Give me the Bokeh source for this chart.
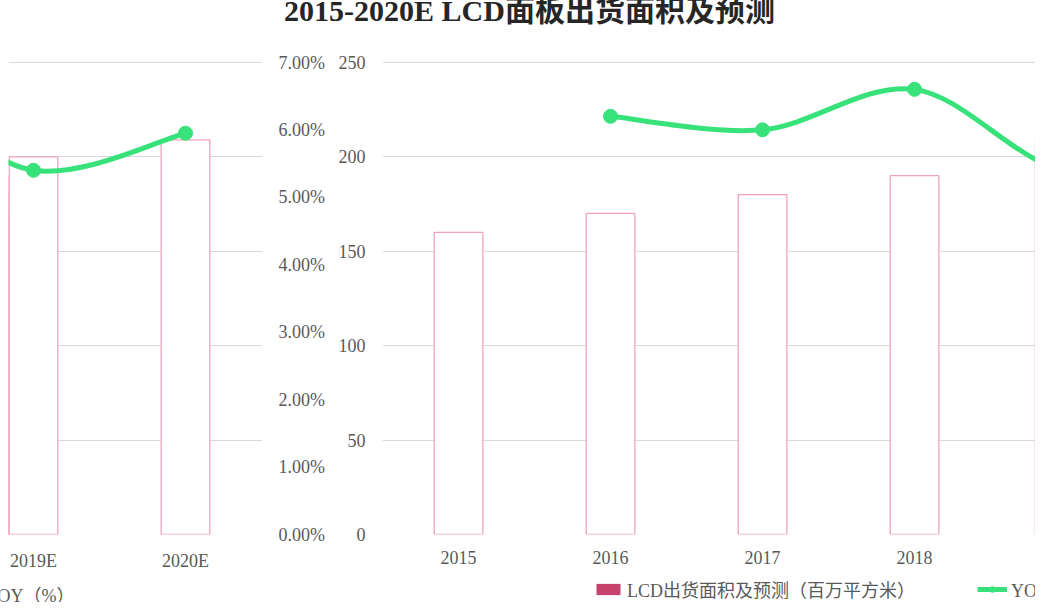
import math
from bokeh.plotting import figure
from bokeh.layouts import column, row
from bokeh.models import (ColumnDataSource, Range1d, LinearAxis, FixedTicker,
                          PrintfTickFormatter, Legend, LegendItem, Label, Div)
from bokeh.embed import file_html
from bokeh.resources import INLINE

# ---------------- data ----------------
categories = ["2015", "2016", "2017", "2018", "2019E", "2020E"]
area = [160, 170, 180, 190, 200, 209]                 # LCD出货面积 (百万平方米)
yoy = [float("nan"), 6.2, 6.0, 6.6, 5.4, 5.95]       # YOY (%)
area_ticks = [0, 50, 100, 150, 200, 250]
yoy_ticks = [0, 1, 2, 3, 4, 5, 6, 7]
title_text = "2015-2020E LCD面板出货面积及预测"
bar_label = "LCD出货面积及预测（百万平方米）"
line_label = "YOY（%）"

# ---------------- styles ----------------
SERIF = "'Liberation Serif', 'Noto Sans CJK SC'"
TXT = "#595959"
GRID = "#D9D9D9"
GREEN = "#38E27A"
BAR_EDGE = "#F2A3BA"
BAR_KEY = "#C6416B"
PX_PER_CAT = 152.0
Y_TOP = area_ticks[-1] + 1          # a little headroom so the top grid line shows
FRAME_H = 474

idx = list(range(len(categories)))
bar_src = ColumnDataSource(dict(x=idx, top=area))
pts = [(i, v) for i, v in zip(idx, yoy) if not math.isnan(v)]
pt_src = ColumnDataSource(dict(x=[q[0] for q in pts], y=[q[1] for q in pts]))

# smoothed line through the YOY points (Catmull-Rom -> cubic Bezier)
seg = dict(x0=[], y0=[], x1=[], y1=[], cx0=[], cy0=[], cx1=[], cy1=[])
n = len(pts)
for k in range(n - 1):
    p0 = pts[max(k - 1, 0)]
    p1 = pts[k]
    p2 = pts[k + 1]
    p3 = pts[min(k + 2, n - 1)]
    seg["x0"].append(p1[0]); seg["y0"].append(p1[1])
    seg["x1"].append(p2[0]); seg["y1"].append(p2[1])
    seg["cx0"].append(p1[0] + (p2[0] - p0[0]) / 6.0)
    seg["cy0"].append(p1[1] + (p2[1] - p0[1]) / 6.0)
    seg["cx1"].append(p2[0] - (p3[0] - p1[0]) / 6.0)
    seg["cy1"].append(p2[1] - (p3[1] - p1[1]) / 6.0)
seg_src = ColumnDataSource(seg)


def style_axis(ax, standoff):
    ax.axis_line_color = None
    ax.major_tick_line_color = None
    ax.minor_tick_line_color = None
    ax.major_tick_out = 0
    ax.major_label_standoff = standoff
    ax.major_label_text_font = SERIF
    ax.major_label_text_font_size = "18px"
    ax.major_label_text_color = TXT


def make_panel(x0, fw, bl, br):
    p = figure(frame_width=fw, frame_height=FRAME_H,
               x_range=Range1d(x0, x0 + fw / PX_PER_CAT),
               y_range=Range1d(area_ticks[0], Y_TOP),
               extra_y_ranges={"pct": Range1d(yoy_ticks[0],
                                              yoy_ticks[-1] * Y_TOP / area_ticks[-1])},
               output_backend="svg", toolbar_location=None,
               min_border_left=bl, min_border_right=br,
               min_border_top=8, min_border_bottom=40,
               outline_line_color=None,
               background_fill_color="white", border_fill_color="white")
    p.xgrid.visible = False
    p.ygrid.ticker = FixedTicker(ticks=area_ticks)
    p.ygrid.grid_line_color = GRID
    p.ygrid.grid_line_width = 1

    xa = p.xaxis[0]
    xa.ticker = FixedTicker(ticks=idx)
    xa.major_label_overrides = {i: c for i, c in zip(idx, categories)}
    style_axis(xa, 16)

    ya = p.yaxis[0]
    ya.ticker = FixedTicker(ticks=area_ticks)
    style_axis(ya, 17)

    p.vbar(x="x", top="top", width=0.32, source=bar_src,
           fill_color="white", line_color=BAR_EDGE, line_width=1.3)
    p.bezier(x0="x0", y0="y0", x1="x1", y1="y1", cx0="cx0", cy0="cy0",
             cx1="cx1", cy1="cy1", source=seg_src, y_range_name="pct",
             line_color=GREEN, line_width=5)
    p.scatter(x="x", y="y", source=pt_src, y_range_name="pct", size=14,
              fill_color=GREEN, line_color=GREEN)
    return p


def make_strip(w):
    # a thin strip that only carries the legend; its ranges keep the series out of view
    s = figure(width=w, height=28, x_range=Range1d(-3, -2), y_range=Range1d(-3, -2),
               x_axis_location=None, y_axis_location=None,
               output_backend="svg", toolbar_location=None,
               min_border=0, outline_line_color=None,
               background_fill_color="white", border_fill_color="white")
    s.grid.visible = False
    return s


# right part of the picture: 2015-2018 with the area axis
right = make_panel(-0.5, 653, 47, 0)

# left part of the picture: 2019E-2020E with the YOY axis
left = make_panel(4 - 25 / PX_PER_CAT, 254, 8, 73)
left.yaxis[0].visible = False
pa = LinearAxis(y_range_name="pct", ticker=FixedTicker(ticks=yoy_ticks),
                formatter=PrintfTickFormatter(format="%.2f%%"))
style_axis(pa, 16)
left.add_layout(pa, "right")

# legend strips under the two parts
leg_right = make_strip(700)
key_bar = leg_right.vbar(x="x", top="top", width=0.3, source=bar_src,
                         fill_color=BAR_KEY, line_color=None)
key_line = leg_right.line(x="x", y="y", source=pt_src, line_color=GREEN, line_width=5)
key_dot = leg_right.scatter(x="x", y="y", source=pt_src, size=9,
                            fill_color=GREEN, line_color=GREEN)
legend = Legend(items=[LegendItem(label=bar_label, renderers=[key_bar]),
                       LegendItem(label=line_label, renderers=[key_line, key_dot])],
                orientation="horizontal", location=(258, 0),
                glyph_width=30, glyph_height=14, label_height=12,
                label_standoff=4, spacing=62, padding=0, margin=0,
                border_line_color=None, background_fill_alpha=0,
                label_text_font=SERIF, label_text_font_size="18px",
                label_text_color=TXT)
leg_right.add_layout(legend, "center")

leg_left = make_strip(335)
leg_left.add_layout(Label(x=-16, y=7, x_units="screen", y_units="screen",
                          text=line_label, text_font=SERIF, text_font_size="18px",
                          text_color=TXT, text_baseline="middle"))

title = Div(text=('<div style="width:1035px;box-sizing:border-box;padding-left:14px;'
                  'text-align:center;font-family:%s;'
                  'font-weight:bold;font-size:30px;color:#262626;line-height:30px;'
                  'margin-top:-9px;">%s</div>') % (SERIF.replace("'", ""), title_text),
            width=1035, height=42)

layout = column(title, row(left, right), row(leg_left, leg_right))
open("out.html", "w").write(file_html(layout, INLINE))
